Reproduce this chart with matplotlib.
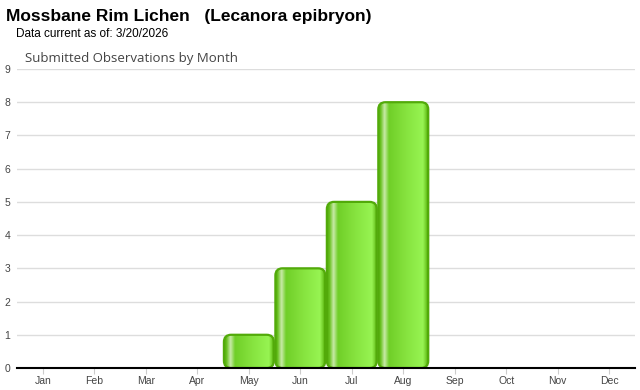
import numpy as np
import matplotlib.pyplot as plt
from matplotlib.patches import FancyBboxPatch
from matplotlib.colors import LinearSegmentedColormap

months = ["Jan", "Feb", "Mar", "Apr", "May", "Jun",
          "Jul", "Aug", "Sep", "Oct", "Nov", "Dec"]
counts = [0, 0, 0, 0, 1, 3, 5, 8, 0, 0, 0, 0]
y_ticks = [0, 1, 2, 3, 4, 5, 6, 7, 8, 9]

title = "Mossbane Rim Lichen   (Lecanora epibryon)"
subtitle = "Data current as of: 3/20/2026"
chart_title = "Submitted Observations by Month"

# horizontal gradient across each bar: dark edge, pale streak, bright green, dark edge
bar_cmap = LinearSegmentedColormap.from_list("bar", [
    (0.00, "#4fa80c"),
    (0.05, "#66c01c"),
    (0.13, "#c9eaa8"),
    (0.22, "#70cf28"),
    (0.55, "#86e23e"),
    (0.90, "#97f452"),
    (0.96, "#74cf2c"),
    (1.00, "#4fab00"),
])
grad = np.linspace(0, 1, 256).reshape(1, -1)

fig = plt.figure(figsize=(6.4, 3.9), dpi=100)
ax = fig.add_axes([0.027, 0.0564, 0.965, 0.7667])

ax.set_xlim(-0.5, 11.5)
ax.set_ylim(0, 9)

width = 0.97
for i, v in enumerate(counts):
    if v <= 0:
        continue
    x0 = i - width / 2
    patch = FancyBboxPatch((x0, 0), width, v,
                           boxstyle="round,pad=0,rounding_size=0.14",
                           mutation_aspect=1.55,
                           facecolor="none", edgecolor="#52aa0a",
                           linewidth=1.6, zorder=3)
    ax.add_patch(patch)
    img = ax.imshow(grad, cmap=bar_cmap, aspect="auto",
                    extent=[x0, x0 + width, 0, v], zorder=2,
                    interpolation="bilinear")
    img.set_clip_path(patch)

ax.set_xlim(-0.5, 11.5)
ax.set_ylim(0, 9)

ax.set_yticks(y_ticks)
ax.set_yticklabels([str(t) for t in y_ticks])
ax.set_xticks(range(len(months)))
ax.set_xticklabels(months)
ax.grid(axis="y", color="#dddddd", linewidth=1)
ax.set_axisbelow(True)

for s in ["top", "right", "left"]:
    ax.spines[s].set_visible(False)
ax.spines["bottom"].set_color("#000000")
ax.spines["bottom"].set_linewidth(1.5)
ax.spines["bottom"].set_zorder(4)

ax.tick_params(axis="y", length=0, pad=5, labelsize=7.5, labelcolor="#444444")
ax.tick_params(axis="x", length=4, color="#cccccc", pad=2,
               labelsize=7.5, labelcolor="#444444")
for lbl in ax.get_xticklabels() + ax.get_yticklabels():
    lbl.set_fontfamily("Liberation Sans")

fig.text(0.009, 0.978, title, fontsize=12.5, fontweight="bold",
         family="Liberation Sans", va="top", ha="left")
fig.text(0.025, 0.927, subtitle, fontsize=8.5,
         family="Liberation Sans", va="top", ha="left")
fig.text(0.039, 0.866, chart_title, fontsize=9.5, color="#444444",
         family="Open Sans", va="top", ha="left")

fig.savefig("out.png", dpi=100)
